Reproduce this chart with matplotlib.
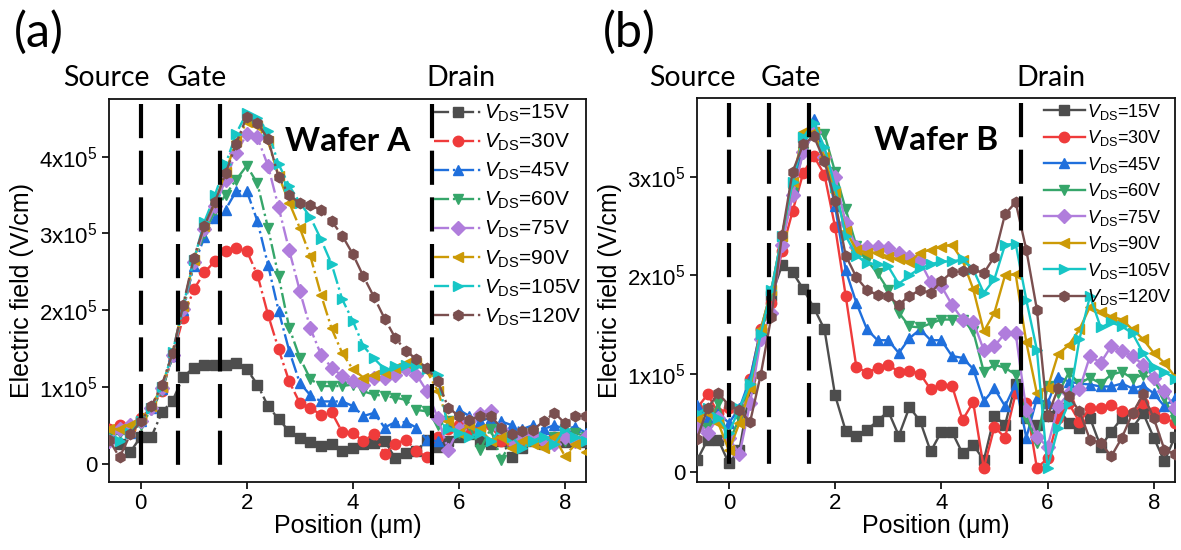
import numpy as np
import matplotlib
matplotlib.use("Agg")
import matplotlib.pyplot as plt

plt.rcParams['font.family'] = ['Liberation Sans', 'DejaVu Sans']
plt.rcParams['mathtext.fontset'] = 'custom'
plt.rcParams['mathtext.rm'] = 'Liberation Sans'
plt.rcParams['mathtext.it'] = 'Liberation Sans:italic'

# positions (um)
pos = np.round(np.arange(-0.6, 8.41, 0.2), 1)

vds = ['15V', '30V', '45V', '60V', '75V', '90V', '105V', '120V']
colors = ['#4d4d4d', '#ef3b3b', '#1f6fdc', '#36a66a', '#b07ddc', '#cc9a06', '#17c6c6', '#7a4f4f']
markers = ['s', 'o', '^', 'v', 'D', '<', '>', 'h']

# wafer A, field in 1e5 V/cm
a15 = [0.35, 0.25, 0.15, 0.35, 0.35, 0.67, 0.82, 1.13, 1.25, 1.28, 1.28, 1.28, 1.31, 1.23, 1.03, 0.75,
       0.58, 0.42, 0.33, 0.28, 0.23, 0.25, 0.17, 0.20, 0.25, 0.27, 0.30, 0.07, 0.14, 0.16, 0.31, 0.21,
       0.30, 0.35, 0.38, 0.30, 0.26, 0.30, 0.08, 0.20, 0.30, 0.25, 0.31, 0.28, 0.30, 0.28]
a30 = [0.45, 0.50, 0.45, 0.60, 0.72, 0.95, 1.40, 1.90, 2.27, 2.49, 2.64, 2.77, 2.81, 2.77, 2.46, 1.94,
       1.49, 1.07, 0.79, 0.73, 0.63, 0.67, 0.41, 0.40, 0.29, 0.39, 0.12, 0.26, 0.31, 0.17, 0.08, 0.35,
       0.45, 0.50, 0.40, 0.45, 0.50, 0.30, 0.25, 0.30, 0.35, 0.30, 0.35, 0.40, 0.30, 0.35]
a45 = [0.40, 0.45, 0.40, 0.55, 0.72, 0.97, 1.40, 2.00, 2.58, 2.95, 3.20, 3.31, 3.55, 3.55, 3.16, 2.59,
       1.99, 1.47, 1.05, 0.89, 0.81, 0.81, 0.81, 0.75, 0.62, 0.66, 0.47, 0.54, 0.54, 0.47, 0.31, 0.29,
       0.50, 0.70, 0.62, 0.55, 0.60, 0.55, 0.50, 0.45, 0.50, 0.45, 0.50, 0.45, 0.48, 0.40]
a60 = [0.35, 0.40, 0.45, 0.50, 0.70, 0.95, 1.40, 2.00, 2.60, 3.00, 3.30, 3.50, 3.70, 3.88, 3.65, 3.07,
       2.44, 1.77, 1.38, 1.10, 1.01, 1.01, 1.01, 1.03, 0.94, 0.90, 0.88, 0.86, 0.83, 0.70, 0.68, 0.50,
       0.55, 0.40, 0.50, 0.18, 0.45, 0.05, 0.30, 0.35, 0.40, 0.25, 0.35, 0.30, 0.40, 0.35]
a75 = [0.30, 0.45, 0.50, 0.55, 0.72, 0.98, 1.42, 2.02, 2.62, 3.05, 3.35, 3.70, 4.05, 4.29, 4.25, 3.88,
       3.34, 2.78, 2.25, 1.76, 1.42, 1.25, 1.14, 1.07, 1.03, 1.12, 1.11, 1.16, 1.23, 1.16, 0.94, 0.60,
       0.18, 0.45, 0.55, 0.65, 0.68, 0.45, 0.30, 0.35, 0.40, 0.30, 0.25, 0.35, 0.30, 0.35]
a90 = [0.45, 0.45, 0.50, 0.60, 0.75, 1.00, 1.45, 2.05, 2.65, 3.10, 3.40, 3.80, 4.20, 4.45, 4.40, 4.20,
       3.75, 3.40, 3.07, 2.70, 2.20, 1.76, 1.44, 1.23, 1.12, 1.16, 1.18, 1.24, 1.31, 1.31, 1.20, 0.95,
       0.55, 0.40, 0.50, 0.45, 0.30, 0.35, 0.20, 0.30, 0.25, 0.20, 0.35, 0.10, 0.25, 0.15]
a105 = [0.35, 0.30, 0.40, 0.55, 0.72, 1.00, 1.45, 2.05, 2.65, 3.15, 3.50, 3.90, 4.30, 4.57, 4.50, 4.33,
        3.90, 3.62, 3.40, 3.21, 2.92, 2.60, 2.14, 1.86, 1.53, 1.37, 1.23, 1.27, 1.29, 1.27, 1.23, 1.15,
        0.45, 0.40, 0.35, 0.40, 0.30, 0.45, 0.35, 0.20, 0.30, 0.35, 0.25, 0.45, 0.35, 0.30]
a120 = [0.31, 0.08, 0.38, 0.55, 0.75, 1.03, 1.44, 2.07, 2.68, 3.10, 3.41, 3.78, 4.17, 4.52, 4.44, 4.23,
        3.73, 3.50, 3.39, 3.37, 3.30, 3.16, 2.97, 2.73, 2.44, 2.17, 1.89, 1.64, 1.47, 1.36, 1.24, 1.08,
        0.73, 0.62, 0.57, 0.62, 0.62, 0.47, 0.38, 0.42, 0.44, 0.55, 0.66, 0.53, 0.62, 0.62]

# wafer B
b15 = [0.12, 0.33, 0.33, 0.09, 0.23, 0.85, 1.42, 1.79, 2.10, 2.03, 1.86, 1.67, 1.45, 0.78, 0.42, 0.37,
       0.43, 0.52, 0.62, 0.37, 0.66, 0.52, 0.21, 0.41, 0.41, 0.19, 0.28, 0.12, 0.57, 0.48, 0.90, 0.55,
       0.48, 0.57, 0.65, 0.50, 0.45, 0.55, 0.26, 0.41, 0.55, 0.45, 0.60, 0.35, 0.11, 0.36]
b30 = [0.65, 0.79, 0.60, 0.65, 0.60, 0.95, 1.45, 1.72, 2.25, 2.65, 3.04, 3.21, 3.02, 2.49, 1.79, 1.07,
       1.01, 1.06, 1.09, 1.02, 1.03, 1.00, 0.84, 0.89, 0.88, 0.53, 0.71, 0.04, 0.46, 0.35, 0.80, 0.70,
       0.04, 0.14, 0.55, 0.70, 0.51, 0.65, 0.65, 0.68, 0.62, 0.60, 0.70, 0.61, 0.55, 0.50]
b45 = [0.68, 0.55, 0.60, 0.50, 0.65, 0.95, 1.45, 1.85, 2.40, 2.90, 3.30, 3.59, 3.20, 2.70, 2.05, 1.72,
       1.45, 1.34, 1.34, 1.21, 1.36, 1.45, 1.34, 1.34, 1.18, 1.16, 1.05, 0.72, 0.85, 0.67, 0.90, 0.35,
       0.75, 0.70, 0.97, 0.92, 0.90, 0.89, 0.87, 0.87, 0.90, 0.85, 0.88, 0.80, 0.67, 0.75]
b60 = [0.50, 0.45, 0.70, 0.30, 0.55, 0.90, 1.40, 1.80, 2.35, 2.85, 3.25, 3.45, 3.43, 3.05, 2.67, 2.30,
       2.15, 2.02, 1.85, 1.62, 1.48, 1.47, 1.51, 1.55, 1.55, 1.55, 1.43, 1.02, 1.09, 1.06, 0.99, 0.55,
       0.30, 0.87, 0.80, 1.01, 0.90, 0.96, 0.90, 0.99, 1.02, 0.95, 0.99, 0.94, 0.75, 0.53]
b75 = [0.45, 0.40, 0.55, 0.35, 0.18, 0.70, 1.35, 1.62, 2.31, 2.81, 3.25, 3.45, 3.20, 3.00, 2.53, 2.29,
       2.29, 2.29, 2.28, 2.23, 2.19, 2.14, 1.93, 1.89, 1.70, 1.55, 1.53, 1.24, 1.28, 1.41, 1.41, 0.63,
       0.36, 0.26, 0.67, 0.80, 0.84, 1.18, 1.11, 1.28, 1.23, 1.18, 1.09, 0.96, 0.82, 0.65]
b90 = [0.55, 0.60, 0.50, 0.22, 0.50, 0.85, 1.45, 1.85, 2.40, 2.95, 3.45, 3.45, 3.20, 2.85, 2.45, 2.26,
       2.23, 2.23, 2.19, 2.16, 2.13, 2.23, 2.26, 2.29, 2.31, 2.15, 1.86, 1.43, 1.62, 2.00, 2.01, 1.32,
       0.80, 0.85, 1.20, 1.29, 1.45, 1.68, 1.63, 1.58, 1.55, 1.45, 1.35, 1.21, 1.11, 0.97]
b105 = [0.60, 0.65, 0.55, 0.40, 0.65, 0.90, 1.40, 1.85, 2.40, 2.95, 3.40, 3.55, 3.30, 2.90, 2.40, 2.20,
        2.12, 2.11, 2.09, 1.91, 2.00, 2.07, 2.11, 2.14, 2.14, 2.16, 2.06, 1.82, 1.96, 2.31, 2.32, 1.75,
        1.24, 0.04, 0.45, 0.70, 1.35, 1.79, 1.47, 1.52, 1.48, 1.41, 1.21, 1.07, 1.02, 0.95]
b120 = [0.34, 0.65, 0.80, 0.68, 0.63, 0.51, 0.99, 1.58, 2.41, 3.05, 3.33, 3.41, 3.16, 2.75, 2.20, 1.98,
        1.85, 1.80, 1.79, 1.70, 1.79, 1.85, 1.82, 1.94, 2.03, 2.04, 2.06, 2.02, 2.19, 2.62, 2.74, 2.26,
        1.65, 0.57, 0.85, 0.77, 0.62, 0.33, 0.30, 0.16, 0.35, 0.60, 0.79, 0.55, 0.23, 0.18]

wafer_a = [a15, a30, a45, a60, a75, a90, a105, a120]
wafer_b = [b15, b30, b45, b60, b75, b90, b105, b120]

# boundary lines (Source, Gate edges, Drain)
lines_a = [0, 0.7, 1.5, 5.5]
lines_b = [0, 0.75, 1.5, 5.5]

yticks_a = [0, 1, 2, 3, 4]
yticks_b = [0, 1, 2, 3]
ytick_labels = ['0', '1x10$^5$', '2x10$^5$', '3x10$^5$', '4x10$^5$']

fig = plt.figure(figsize=(11.81, 5.5), dpi=100)
ax1 = fig.add_axes([109 / 1181, 68 / 550, 477 / 1181, 383 / 550])
ax2 = fig.add_axes([697 / 1181, 68 / 550, 478 / 1181, 384 / 550])


def draw(ax, data, lines, ls, ylim, yticks, title, vspan, legsize, legspace):
    for i, y in enumerate(data):
        ax.plot(pos, y, linestyle=ls, color=colors[i], marker=markers[i], markersize=7.5,
                linewidth=1.7, label=r'$V_{\mathrm{DS}}$=' + vds[i], zorder=3)
    for d in lines:
        ax.plot([d, d], [vspan[1], vspan[0]], color='k', linewidth=3, dashes=(8.2, 3), zorder=5)
    ax.set_xlim(-0.6, 8.4)
    ax.set_ylim(*ylim)
    ax.set_xticks([0, 2, 4, 6, 8])
    ax.set_yticks(yticks)
    ax.set_yticklabels(ytick_labels[:len(yticks)])
    ax.tick_params(labelsize=16, length=5, width=1.2, direction='out', pad=3)
    for sp in ax.spines.values():
        sp.set_linewidth(1.3)
        sp.set_color('#111111')
    ax.set_xlabel('Position (\u03bcm)', fontsize=18, labelpad=0)
    ax.set_ylabel('Electric field (V/cm)', fontsize=18, labelpad=4)
    ax.text(0.5, 0.89, title, transform=ax.transAxes, ha='center', va='center',
            fontsize=24, fontweight='bold', family=['Lato', 'DejaVu Sans'])
    ax.legend(loc='upper right', frameon=False, fontsize=legsize, handlelength=2.3,
              handletextpad=0.1, labelspacing=legspace, borderaxespad=0.05, borderpad=0.15)


draw(ax1, wafer_a, lines_a, '-.', (-0.24, 4.75), yticks_a, 'Wafer A', (-0.09, 4.69), 15, 0.37)
draw(ax2, wafer_b, lines_b, '-', (-0.1, 3.8), yticks_b, 'Wafer B', (0.0, 3.75), 13, 0.36)

lato = ['Lato', 'DejaVu Sans']
for x, s in [(39, '(a)'), (629, '(b)')]:
    fig.text(x / 1181, 1 - 32 / 550, s, ha='center', va='center', fontsize=35, family=lato)
for x, s in [(106, 'Source'), (197, 'Gate'), (461, 'Drain'),
             (692, 'Source'), (791, 'Gate'), (1051, 'Drain')]:
    fig.text(x / 1181, 1 - 78 / 550, s, ha='center', va='center', fontsize=20.5, family=lato)

fig.savefig('out.png', dpi=100)
